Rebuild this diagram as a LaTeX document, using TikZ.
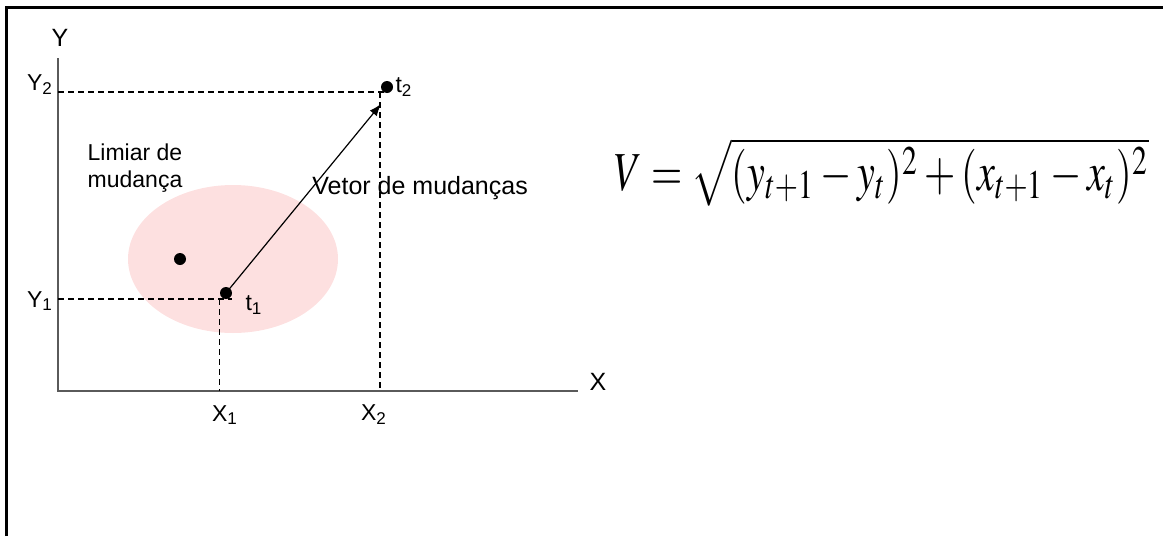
\documentclass[tikz,border=0pt]{standalone}
\usepackage{mathptmx}
\usepackage[no-math]{fontspec}
\setmainfont{Liberation Sans}
\usetikzlibrary{arrows.meta,positioning}
\definecolor{limiar}{RGB}{253,224,224}
\definecolor{eixo}{RGB}{90,90,90}

\begin{document}
\begin{tikzpicture}[x=0.5pt,y=-0.5pt,
  lbl/.style={inner sep=1pt,font=\fontsize{11.5}{13.5}\selectfont},
  dot/.style={circle,fill=black,minimum size=6pt,inner sep=0pt},
  guide/.style={dash pattern=on 3pt off 2pt,line width=0.65pt},
  axis/.style={draw=eixo,line width=0.7pt},
  vec/.style={-{Latex[length=6pt,width=4.5pt]},line width=0.6pt}
]
\useasboundingbox (0,0) rectangle (1163,536);
\draw[line width=1.2pt] (6.5,536) -- (6.5,7.5) -- (1163,7.5);

% limiar de mudanca
\fill[limiar] (233,259) ellipse [x radius=105, y radius=74];

% eixos
\coordinate (O) at (58,391);
\coordinate (ytop) at (58,58);
\coordinate (xend) at (578,391);
\draw[axis] (ytop) -- (O) -- (xend);
\node[lbl,font=\fontsize{12.5}{14}\selectfont] (ylab) at (60,38) {Y};
\node[lbl,font=\fontsize{12.5}{14}\selectfont] (xlab) at (598,382) {X};

% projecoes
\coordinate (y1) at (58,299);
\coordinate (y2) at (58,92);
\coordinate (x1) at (219.5,391);
\coordinate (x2) at (380,391);
\coordinate (c1) at (219.5,299);
\coordinate (c2) at (380,92);
\draw[guide] (y2) -- (384,92);
\draw[guide] (c2) -- (x2);
\draw[guide] (y1) -- (232,299);
\draw[guide] (c1) -- (x1);

\node[lbl] (ly2) at (40,85) {Y\textsubscript{2}};
\node[lbl] (ly1) at (40,301) {Y\textsubscript{1}};
\node[lbl] (lx1) at (225,415) {X\textsubscript{1}};
\node[lbl] (lx2) at (374,415) {X\textsubscript{2}};

% pontos
\node[dot] (p0) at (180,259) {};
\node[dot] (t1) at (226,293) {};
\node[dot] (t2) at (387,87) {};
\node[lbl] (lt1) at (254,305) {t\textsubscript{1}};
\node[lbl] (lt2) at (404,87) {t\textsubscript{2}};

\coordinate (tip) at (381,104);
\draw[vec] (t1.center) -- (tip);

\node[lbl,align=left] (lim) at (135,168) {Limiar de\\mudança};
\node[lbl,anchor=west,font=\fontsize{12.5}{14}\selectfont] (vet) at (310,188) {Vetor de mudanças};

\node (eq) at (882,172) {\resizebox*{267pt}{34pt}{$V=\sqrt{(y_{t+1}-y_t)^2+(x_{t+1}-x_t)^2}$}};
\end{tikzpicture}
\end{document}
